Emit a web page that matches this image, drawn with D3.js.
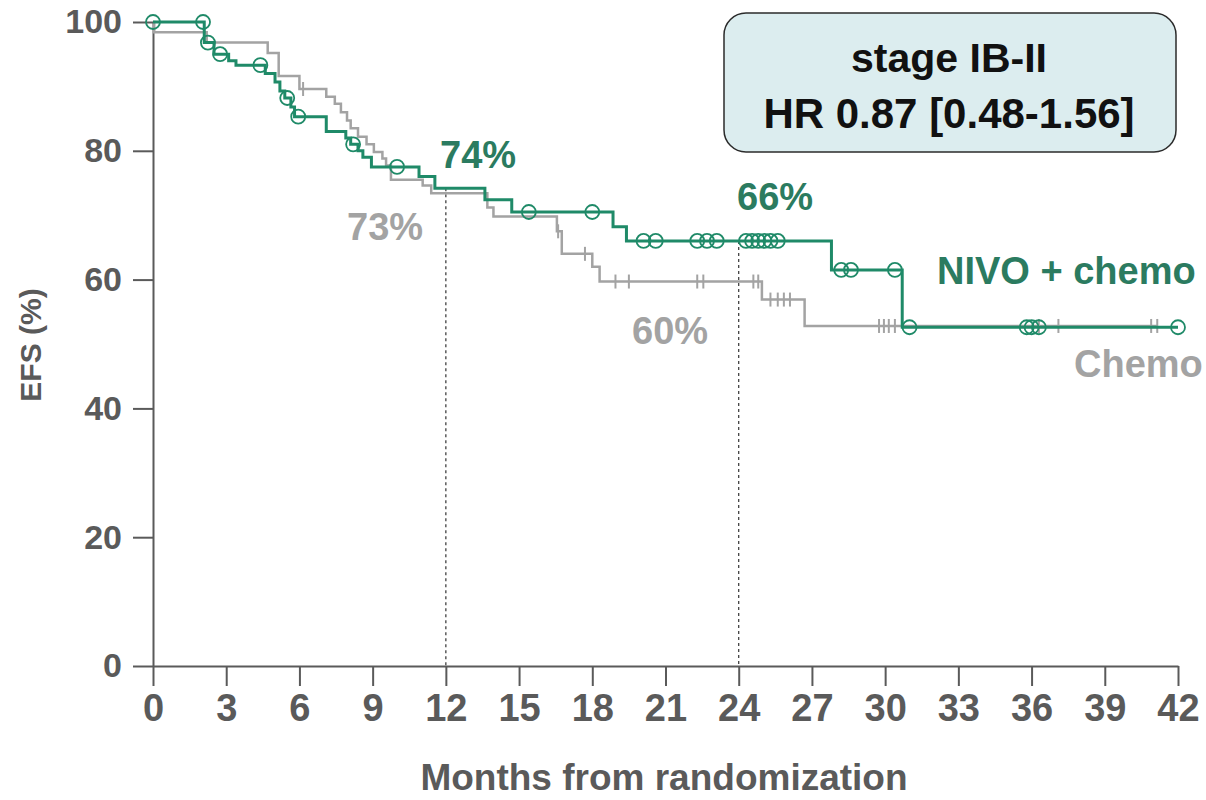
<!DOCTYPE html>
<html>
<head>
<meta charset="utf-8">
<script src="https://cdn.jsdelivr.net/npm/d3@7"></script>
<style>
  body { margin: 0; background: #fff; }
  svg { display: block; font-family: "Liberation Sans", Arial, sans-serif; }
</style>
</head>
<body>
<svg id="chart" width="1206" height="800"></svg>
<script>
// NIVO + chemo: step times (months) and EFS (%) after each step
const nivoTimes = [0, 2.1, 2.5, 3.1, 3.4, 4.6, 5.0, 5.2, 5.4, 5.65, 5.8, 7.1, 7.9, 8.1, 8.4, 8.6, 8.95, 10.9, 11.55, 13.6, 14.7, 18.85, 19.4, 27.8, 30.7, 42]
const nivoSurv = [100, 96.8, 95.0, 94.0, 93.3, 92.0, 90.7, 89.3, 88.2, 86.8, 85.3, 83.0, 82.0, 81.0, 80.0, 79.0, 77.5, 76.0, 74.2, 72.4, 70.5, 68.2, 66.0, 61.5, 52.6, 52.6]
const nivoCensored = [0, 2.05, 2.25, 2.75, 4.4, 5.5, 5.95, 8.2, 10.0, 15.4, 18.0, 20.1, 20.6, 22.3, 22.7, 23.1,
  24.3, 24.55, 24.8, 25.05, 25.3, 25.6, 28.2, 28.6, 30.4, 31.0, 35.8, 36.0, 36.3, 42.0]

// Chemo
const chemoTimes = [0, 0.05, 2.2, 4.7, 5.15, 6.0, 7.1, 7.45, 7.7, 7.95, 8.1, 8.4, 8.75, 9.05, 9.4, 9.55, 9.75, 11.05, 11.4, 13.7, 13.95, 16.55, 16.75, 18.0, 18.3, 24.95, 26.7, 41.15]
const chemoSurv = [100, 98.4, 96.8, 95.2, 91.6, 89.6, 88.4, 87.3, 86.0, 84.7, 83.5, 82.2, 81.0, 79.8, 78.8, 77.7, 75.5, 74.6, 73.4, 71.2, 69.8, 67.5, 64.0, 62.0, 59.7, 56.9, 52.8, 52.8]
const chemoCensored = [6.15, 16.6, 17.7, 18.95, 19.5, 22.3, 22.55, 24.6, 24.8, 25.3, 25.6, 25.85, 26.1,
  29.75, 29.95, 30.15, 30.4, 36.3, 37.1, 40.9, 41.15]

const xTicks = [0, 3, 6, 9, 12, 15, 18, 21, 24, 27, 30, 33, 36, 39, 42]
const yTicks = [0, 20, 40, 60, 80, 100]
const landmarks = [12, 24]

const GREEN = '#1f8a68'
const GREEN_TEXT = '#2b7b60'
const GRAY = '#a3a3a3'
const AXIS = '#5a5a5a'

const svg = d3.select('#chart')
const x = d3.scaleLinear().domain([0, 42]).range([153, 1178])
const y = d3.scaleLinear().domain([0, 100]).range([666, 22])

function toPoints (times, surv) {
  return times.map((t, i) => ({ t: t, s: surv[i] }))
}

function survAt (times, surv, t) {
  const i = Math.max(0, d3.bisectRight(times, t) - 1)
  return surv[i]
}

// axes
const yAxis = svg.append('g')
  .attr('transform', `translate(${x(0)},0)`)
  .call(d3.axisLeft(y).tickValues(yTicks).tickSize(20).tickSizeOuter(0).tickPadding(11))
yAxis.select('.domain').attr('stroke', AXIS).attr('stroke-width', 2)
yAxis.selectAll('.tick line').attr('stroke', AXIS).attr('stroke-width', 2)
yAxis.selectAll('.tick text')
  .attr('fill', AXIS).attr('font-size', 34).attr('font-weight', 'bold')
  .attr('font-family', '"Liberation Sans", Arial, sans-serif')

const xAxis = svg.append('g')
  .attr('transform', `translate(0,${y(0)})`)
  .call(d3.axisBottom(x).tickValues(xTicks).tickSize(20).tickSizeOuter(0).tickPadding(8))
xAxis.select('.domain').attr('stroke', AXIS).attr('stroke-width', 2)
xAxis.selectAll('.tick line').attr('stroke', AXIS).attr('stroke-width', 2)
xAxis.selectAll('.tick text')
  .attr('fill', AXIS).attr('font-size', 38).attr('font-weight', 'bold')
  .attr('font-family', '"Liberation Sans", Arial, sans-serif')

// landmark dashed lines
svg.selectAll('.landmark')
  .data(landmarks).join('line')
  .attr('class', 'landmark')
  .attr('x1', d => x(d)).attr('x2', d => x(d))
  .attr('y1', d => y(survAt(nivoTimes, nivoSurv, d)))
  .attr('y2', y(0))
  .attr('stroke', '#333').attr('stroke-width', 1.2)
  .attr('stroke-dasharray', '3,3')

const line = d3.line().x(d => x(d.t)).y(d => y(d.s)).curve(d3.curveStepAfter)

// chemo curve + tick censor marks
svg.append('path')
  .datum(toPoints(chemoTimes, chemoSurv))
  .attr('d', line)
  .attr('fill', 'none').attr('stroke', GRAY).attr('stroke-width', 2.5)

svg.selectAll('.cens-chemo')
  .data(chemoCensored).join('line')
  .attr('class', 'cens-chemo')
  .attr('x1', d => x(d)).attr('x2', d => x(d))
  .attr('y1', d => y(survAt(chemoTimes, chemoSurv, d)) - 7)
  .attr('y2', d => y(survAt(chemoTimes, chemoSurv, d)) + 7)
  .attr('stroke', GRAY).attr('stroke-width', 2)

// nivo curve + circle censor marks
svg.append('path')
  .datum(toPoints(nivoTimes, nivoSurv))
  .attr('d', line)
  .attr('fill', 'none').attr('stroke', GREEN).attr('stroke-width', 3)

svg.selectAll('.cens-nivo')
  .data(nivoCensored).join('circle')
  .attr('class', 'cens-nivo')
  .attr('cx', d => x(d))
  .attr('cy', d => y(survAt(nivoTimes, nivoSurv, d)))
  .attr('r', 7)
  .attr('fill', 'none').attr('stroke', GREEN).attr('stroke-width', 1.8)

// annotations
const labels = [
  { text: '74%', px: 440, py: 168, color: GREEN_TEXT },
  { text: '73%', px: 347, py: 240, color: GRAY },
  { text: '66%', px: 737, py: 210, color: GREEN_TEXT },
  { text: '60%', px: 632, py: 344, color: GRAY },
  { text: 'NIVO + chemo', px: 937, py: 284, color: GREEN_TEXT },
  { text: 'Chemo', px: 1074, py: 377, color: GRAY }
]
svg.selectAll('.anno')
  .data(labels).join('text')
  .attr('class', 'anno')
  .attr('x', d => d.px).attr('y', d => d.py)
  .attr('fill', d => d.color)
  .attr('font-size', 38).attr('font-weight', 'bold')
  .text(d => d.text)

// HR box
svg.append('rect')
  .attr('x', 724).attr('y', 13).attr('width', 452).attr('height', 139)
  .attr('rx', 22).attr('ry', 22)
  .attr('fill', '#dcedef').attr('stroke', '#2b2b2b').attr('stroke-width', 1.5)
svg.append('text')
  .attr('x', 949).attr('y', 72).attr('text-anchor', 'middle')
  .attr('font-size', 41).attr('font-weight', 'bold').attr('fill', '#111')
  .text('stage IB-II')
svg.append('text')
  .attr('x', 949).attr('y', 128).attr('text-anchor', 'middle')
  .attr('font-size', 42).attr('font-weight', 'bold').attr('fill', '#111')
  .text('HR 0.87 [0.48-1.56]')

// axis titles
svg.append('text')
  .attr('transform', 'translate(41,345) rotate(-90)')
  .attr('text-anchor', 'middle')
  .attr('font-size', 30).attr('font-weight', 'bold').attr('fill', AXIS)
  .text('EFS (%)')
svg.append('text')
  .attr('x', 664).attr('y', 790).attr('text-anchor', 'middle')
  .attr('font-size', 37).attr('font-weight', 'bold').attr('fill', AXIS)
  .text('Months from randomization')
</script>
</body>
</html>
